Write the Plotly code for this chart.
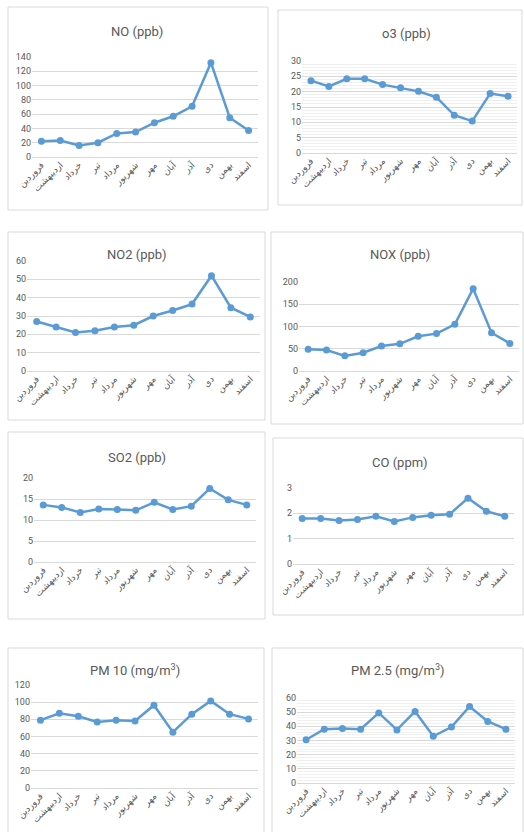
import plotly.graph_objects as go

W, H = 524, 832

months = ["فروردین", "اردیبهشت", "خرداد", "تیر", "مرداد", "شهریور",
          "مهر", "آبان", "آذر", "دی", "بهمن", "اسفند"]

no_vals = [22, 23, 16, 20, 33, 35, 48, 57, 71, 132, 55, 37]
o3_vals = [23.6, 21.7, 24.2, 24.2, 22.3, 21.3, 20.1, 18.2, 12.3, 10.4, 19.4, 18.5]
no2_vals = [27, 24, 21, 22, 24, 25, 30, 33, 36.5, 52, 34.5, 29.5]
nox_vals = [49, 47, 34, 41, 56, 61, 78, 84, 105, 185, 86, 62]
so2_vals = [13.6, 13.0, 11.8, 12.6, 12.5, 12.3, 14.2, 12.5, 13.3, 17.5, 14.8, 13.6]
co_vals = [1.8, 1.8, 1.72, 1.76, 1.88, 1.68, 1.84, 1.92, 1.96, 2.6, 2.08, 1.88]
pm10_vals = [79, 87, 83.5, 77, 79, 78, 96.5, 65, 86, 101.5, 86, 80.5]
pm25_vals = [30.5, 38, 38.5, 38, 49.5, 37.5, 50.5, 33, 39.5, 54, 43.5, 38]

titles = ["NO (ppb)", "o3 (ppb)", "NO2 (ppb)", "NOX (ppb)", "SO2 (ppb)", "CO (ppm)",
          "PM 10 (mg/m<sup>3</sup>)", "PM 2.5 (mg/m<sup>3</sup>)"]
series = [no_vals, o3_vals, no2_vals, nox_vals, so2_vals, co_vals, pm10_vals, pm25_vals]
yranges = [(140, 20), (30, 5), (60, 10), (200, 50), (20, 5), (3, 1), (120, 20), (60, 10)]
minor_dt = [None, 1, None, None, None, None, None, 2]

# layout (pixels): plot area x0, x1, ytop, ybottom ; title center x, y ; box x0,x1,y0,y1
plots = [
    (32, 258, 57, 157), (302, 517, 61, 153),
    (27, 260, 261, 371), (299, 519, 282, 371),
    (34, 256, 478, 562), (293, 514, 488, 564),
    (31, 258, 685, 788), (297, 515, 698, 783),
]
title_pos = [(137, 32), (406, 33), (137, 254), (400, 255),
             (137, 457), (400, 462), (135, 670), (398, 670)]
boxes = [
    (8, 268, 7, 210), (278, 522, 10, 205),
    (8, 265, 232, 420), (271, 523, 232, 424),
    (8, 265, 432, 619), (273, 523, 438, 615),
    (8, 264, 648, 840), (272, 523, 648, 840),
]

def px(x):
    return x / W

def py(y):
    return 1 - y / H

fig = go.Figure()
BLUE = "#5B9BD5"
GREY = "#595959"
GRID = "#D9D9D9"
FONT = "Roboto"

shapes = []
annotations = []
for i in range(8):
    n = i + 1
    xa = "x" if n == 1 else f"x{n}"
    ya = "y" if n == 1 else f"y{n}"
    fig.add_trace(go.Scatter(
        x=months, y=series[i], xaxis=xa, yaxis=ya, mode="lines+markers",
        line=dict(color=BLUE, width=2.5), marker=dict(color=BLUE, size=7),
        showlegend=False, hoverinfo="y"))
    x0, x1, yt, yb = plots[i]
    ymax, dt = yranges[i]
    xkey = "xaxis" if n == 1 else f"xaxis{n}"
    ykey = "yaxis" if n == 1 else f"yaxis{n}"
    fig.layout[xkey] = dict(
        domain=[px(x0), px(x1)], anchor=ya, range=[-0.5, 11.5], automargin=False,
        showgrid=False, zeroline=False, showline=False, ticks="",
        tickangle=-45, tickfont=dict(size=9, color=GREY, family="DejaVu Sans"),
        fixedrange=True)
    yax = dict(
        domain=[py(yb), py(yt)], anchor=xa, range=[0, ymax], dtick=dt, tick0=0,
        automargin=False,
        showgrid=True, gridcolor=GRID, gridwidth=1, zeroline=True,
        zerolinecolor=GRID, zerolinewidth=1, showline=False, ticks="",
        tickfont=dict(size=9, color=GREY, family=FONT), fixedrange=True)
    if minor_dt[i]:
        yax["minor"] = dict(dtick=minor_dt[i], showgrid=True, gridcolor="#F0F0F0", gridwidth=1)
    fig.layout[ykey] = yax
    bx0, bx1, by0, by1 = boxes[i]
    shapes.append(dict(type="rect", xref="paper", yref="paper",
                       x0=px(bx0), x1=px(bx1), y0=py(by1), y1=py(by0),
                       line=dict(color=GRID, width=1), layer="below"))
    tx, ty = title_pos[i]
    annotations.append(dict(text=titles[i], xref="paper", yref="paper",
                            x=px(tx), y=py(ty), xanchor="center", yanchor="middle",
                            showarrow=False, font=dict(size=13, color=GREY, family=FONT)))

fig.update_layout(width=W, height=H, margin=dict(l=0, r=0, t=0, b=0, autoexpand=False),
                  paper_bgcolor="white", plot_bgcolor="white",
                  shapes=shapes, annotations=annotations)

fig.write_html("out.html", config={"responsive": False, "displayModeBar": False},
               post_script="document.body.style.margin='0px';document.body.style.overflow='hidden';")
